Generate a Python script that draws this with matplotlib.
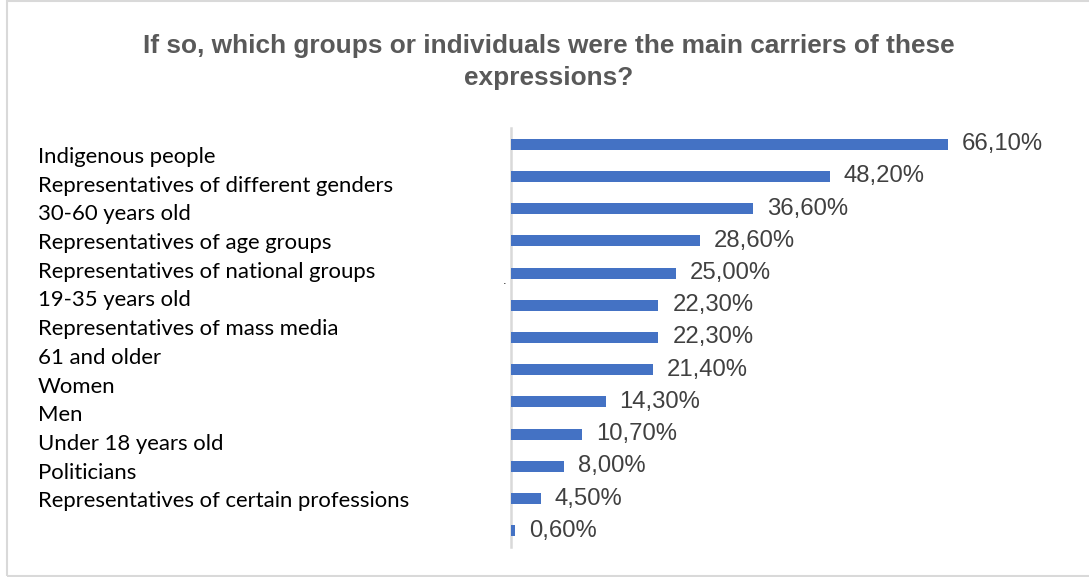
import matplotlib

matplotlib.use("Agg")

import matplotlib.pyplot as plt
from matplotlib.patches import Rectangle

TITLE = "If so, which groups or individuals were the main carriers of these\nexpressions?"
GROUPS = [
    "Indigenous people",
    "Representatives of different genders",
    "30-60 years old",
    "Representatives of age groups",
    "Representatives of national groups",
    "19-35 years old",
    "Representatives of mass media",
    "61 and older",
    "Women",
    "Men",
    "Under 18 years old",
    "Politicians",
    "Representatives of certain professions",
]
SHARES = [66.1, 48.2, 36.6, 28.6, 25.0, 22.3, 22.3, 21.4, 14.3, 10.7, 8.0, 4.5, 0.6]

W, H = 1089, 577
BAR_COLOR = "#4472C4"
GRID_GRAY = "#d9d9d9"
TEXT_GRAY = "#404040"


def fx(px):
    return px / W


def fy(py):
    return 1 - py / H


def main():
    fig = plt.figure(figsize=(W / 100, H / 100), dpi=100)

    # outer chart frame (right edge runs off the canvas)
    fig.patches.append(Rectangle((fx(7), fy(576)), 1.2, fy(1) - fy(576),
                                 transform=fig.transFigure, fill=False,
                                 edgecolor=GRID_GRAY, linewidth=1.5))

    fig.text(fx(549), fy(62), TITLE, ha="center", va="center",
             fontsize=18.9, fontweight="bold", color="#595959",
             family="Liberation Sans", linespacing=1.45)

    ax = fig.add_axes([fx(511), fy(547), fx(463), (547 - 128) / H])
    y = list(range(len(SHARES)))
    ax.barh(y, SHARES, height=0.34, color=BAR_COLOR, zorder=3)
    for yi, v in zip(y, SHARES):
        ax.text(v + 2.1, yi, f"{v:.2f}%".replace(".", ","), va="center",
                ha="left", fontsize=17.2, color=TEXT_GRAY,
                family="Liberation Sans")
    ax.set_xlim(0, 70)
    ax.set_ylim(len(SHARES) - 0.5, -0.5)
    for side in ("top", "right", "bottom"):
        ax.spines[side].set_visible(False)
    ax.spines["left"].set_color(GRID_GRAY)
    ax.spines["left"].set_linewidth(1.8)
    ax.set_xticks([])
    ax.set_yticks([])
    ax.patch.set_alpha(0)

    # category names sit in their own column, spaced independently of the bars
    for i, name in enumerate(GROUPS):
        fig.text(fx(38), fy(157 + i * 28.7), name, ha="left", va="center",
                 fontsize=15.9, color="black", family="Lato")
    fig.text(fx(505), fy(281), ".", ha="center", va="center",
             fontsize=8, color="black")

    fig.savefig("out.png", dpi=100)
    plt.close(fig)


if __name__ == "__main__":
    main()
